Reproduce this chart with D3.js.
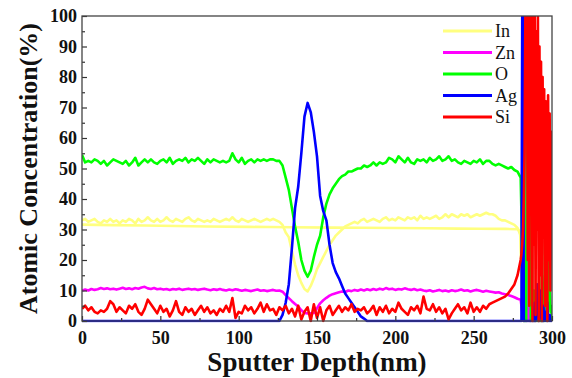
<!DOCTYPE html>
<html>
<head>
<meta charset="utf-8">
<script src="https://cdn.jsdelivr.net/npm/d3@7"></script>
<style>
  html, body { margin: 0; padding: 0; background: #fff; }
  svg { display: block; }
  .tick text { font-family: "Times New Roman", "Liberation Serif", serif; font-weight: bold; font-size: 18px; fill: #111; }
  .tick line { stroke: #333; stroke-width: 1.2; }
</style>
</head>
<body>
<svg id="chart" width="572" height="378"></svg>
<script>
// sputter depth grid (nm): 2 nm steps in the film, 0.5 nm steps in the substrate spikes
const depthMain = [
  0, 2, 4, 6, 8, 10, 12, 14, 16, 18,
  20, 22, 24, 26, 28, 30, 32, 34, 36, 38,
  40, 42, 44, 46, 48, 50, 52, 54, 56, 58,
  60, 62, 64, 66, 68, 70, 72, 74, 76, 78,
  80, 82, 84, 86, 88, 90, 92, 94, 96, 98,
  100, 102, 104, 106, 108, 110, 112, 114, 116, 118,
  120, 122, 124, 126, 128, 130, 132, 134, 136, 138,
  140, 142, 144, 146, 148, 150, 152, 154, 156, 158,
  160, 162, 164, 166, 168, 170, 172, 174, 176, 178,
  180, 182, 184, 186, 188, 190, 192, 194, 196, 198,
  200, 202, 204, 206, 208, 210, 212, 214, 216, 218,
  220, 222, 224, 226, 228, 230, 232, 234, 236, 238,
  240, 242, 244, 246, 248, 250, 252, 254, 256, 258,
  260, 262, 264, 266, 268, 270, 272, 274, 276, 278
];
const depthTail = [
  280, 280.5, 281, 281.5, 282, 282.5, 283, 283.5, 284, 284.5,
  285, 285.5, 286, 286.5, 287, 287.5, 288, 288.5, 289, 289.5,
  290, 290.5, 291, 291.5, 292, 292.5, 293, 293.5, 294, 294.5,
  295, 295.5, 296, 296.5, 297, 297.5, 298, 298.5, 299, 299.5, 300
];

const inMain = [
  33, 33.5, 32.5, 33, 33.5, 32.5, 32, 33, 32.5, 33.5,
  32.5, 33, 32, 33, 32.5, 33.5, 33, 32, 33.5, 32.5,
  33, 34, 33, 32.5, 33.5, 32.5, 33, 34, 33, 32.5,
  33.5, 33, 32.5, 33.5, 34, 33, 32.5, 33.5, 33, 32.5,
  33, 32.5, 33.5, 33, 32.5, 33, 33.5, 33, 34, 33,
  32.5, 33.5, 33, 32.5, 33, 33.5, 33, 32.5, 33, 33.5,
  33, 33.5, 33, 32.5, 31.5, 29, 27.5, 23, 18.5, 15,
  12.5, 10.5, 9.7, 11.5, 14, 17, 19, 21, 23, 25,
  26.5, 28, 29, 30, 31, 31.5, 32, 32.5, 32, 33,
  33.5, 32.5, 33, 33.5, 33, 32.5, 33.5, 34, 33, 33.5,
  33, 34, 33.5, 33, 34, 33.5, 34, 33, 34.5, 33.5,
  34, 33.5, 34, 34.5, 33.5, 34, 35, 34, 35, 34.5,
  34, 35, 34.5, 35, 34, 34.5, 35, 34.5, 35, 35.5,
  35, 35, 34.5, 33.5, 33, 33, 32.5, 32, 31.5, 30.5
];
const inTail = [
  28, 15, 4, 0, 0, 0, 0, 0, 3, 0,
  0, 0, 5, 0, 0, 6, 0, 0, 0, 2,
  0, 0, 0, 4, 0, 0, 0, 2, 0, 0,
  0, 0, 3, 0, 0, 0, 0, 0, 0, 0, 0
];

// second, smooth In trace
const inBaseDepth = [0, 40, 80, 120, 160, 200, 240, 270, 278, 279.5, 280.5, 281.5];
const inBaseValue = [31.6, 31.3, 31.0, 30.8, 30.6, 30.5, 30.3, 30.2, 30.1, 29, 18, 0];

const znMain = [
  10, 10.3, 10, 10.5, 10.2, 10.4, 10.8, 10.5, 10.7, 10.4,
  10.6, 10.3, 10.6, 10.9, 10.5, 10.7, 10.4, 10.8, 10.6, 11,
  11.2, 10.7, 10.5, 10.8, 10.4, 10.6, 10.3, 10.5, 10.2, 10.5,
  10.3, 10.6, 10.2, 10.4, 10.6, 10.3, 10.5, 10.2, 10.4, 10.6,
  10.3, 10.1, 10.4, 10.2, 10.5, 10.2, 10, 10.3, 10.1, 10.4,
  10.2, 9.9, 10.2, 10, 9.8, 10.1, 10.3, 9.9, 10.1, 9.8,
  10, 10.2, 9.9, 10, 9.6, 8.5, 7.5, 6.5, 5.6, 4.8,
  3.5, 2.6, 2.5, 2.5, 2.6, 4.2, 5.8, 6.8, 7.6, 8.3,
  8.8, 9.1, 9.4, 9.7, 9.5, 10, 9.8, 10.2, 9.9, 10.3,
  10, 10.4, 10.1, 10.5, 10.2, 10.6, 10.3, 10.8, 10.4, 10.6,
  10.2, 10.5, 10.3, 10.7, 10.4, 10.2, 10.5, 10.1, 10.3, 10,
  9.8, 10.1, 9.7, 9.9, 10.2, 9.8, 10, 9.7, 10.1, 9.8,
  10, 10.3, 9.9, 10.1, 9.7, 10, 10.2, 9.9, 9.6, 9.9,
  9.7, 9.5, 9.3, 9.4, 9, 8.8, 8.5, 8.2, 7.8, 7.3
];
const znTail = [
  7, 5, 3, 1, 0, 100, 100, 10, 0, 5,
  20, 0, 5, 0, 3, 0, 0, 2, 0, 0,
  4, 0, 0, 3, 0, 0, 5, 0, 8, 0,
  12, 3, 30, 5, 30, 66, 40, 58, 25, 36, 20
];

const oMain = [
  54.5, 52, 52.5, 52, 53, 52.5, 51.5, 52.5, 51, 52,
  53, 52.5, 52, 51.5, 52.5, 51, 52, 53.5, 51, 52,
  53, 52, 53, 52, 51.5, 52.5, 53, 52, 53.5, 51.5,
  52.5, 53, 52.5, 53.5, 52, 53, 52.5, 53.5, 52.5, 51.5,
  53, 52, 53, 52.5, 52, 52.5, 52, 52.5, 55, 53,
  52, 53.5, 51.5, 52.5, 53, 52, 53, 52.5, 53, 52.5,
  53, 53, 52.5, 52.5, 51, 47, 43, 37, 31, 26,
  20, 16.5, 14.5, 16.5, 21, 25, 28, 34, 38.5, 41.5,
  43.5, 45, 46.5, 47.5, 48, 49, 49, 49.5, 50, 50,
  51, 50.5, 51, 52, 51, 52, 51.5, 52, 53.5, 53,
  52, 54, 53, 52, 53.5, 52, 51.5, 53, 52.5, 53,
  52, 53.5, 52.5, 53, 54, 52.5, 53, 54, 52.5, 53,
  52, 51.5, 52.5, 52, 51.5, 52.5, 52, 53, 51.5, 52.5,
  52.5, 51.5, 51, 51.5, 51, 50.5, 50, 50.5, 49.5, 49
];
const oTail = [
  47, 35, 15, 3, 0, 2, 0, 0, 95, 30,
  88, 5, 60, 0, 40, 2, 0, 10, 0, 5,
  0, 3, 0, 8, 0, 2, 0, 15, 0, 10,
  0, 26, 5, 22, 0, 26, 18, 10, 3, 5, 0
];

const agMain = [
  0, 0, 0, 0, 0, 0, 0, 0, 0, 0,
  0, 0, 0, 0, 0, 0, 0, 0, 0, 0,
  0, 0, 0, 0, 0, 0, 0, 0, 0, 0,
  0, 0, 0, 0, 0, 0, 0, 0, 0, 0,
  0, 0, 0, 0, 0, 0, 0, 0, 0, 0,
  0, 0, 0, 0, 0, 0, 0, 0, 0, 0,
  0, 0, 0, 0, 2, 6, 12, 24, 37, 44,
  55, 67, 71.5, 68.5, 62, 54, 41, 36, 33, 25,
  19, 16, 14, 11.5, 9, 7.5, 6, 4.5, 3, 1.5,
  0.8, 0, 0, 0, 0, 0, 0, 0, 0, 0,
  0, 0, 0, 0, 0, 0, 0, 0, 0, 0,
  0, 0, 0, 0, 0, 0, 0, 0, 0, 0,
  0, 0, 0, 0, 0, 0, 0, 0, 0, 0,
  0, 0, 0, 0, 0, 0, 0, 0, 0, 0
];
const agTail = [
  0, 0, 100, 100, 0, 0, 0, 0, 0, 0,
  0, 0, 0, 0, 0, 0, 0, 0, 6, 0,
  3, 12, 4, 0, 6, 10, 2, 0, 0, 5,
  0, 3, 0, 0, 6, 0, 0, 2, 0, 0, 0
];

const siMain = [
  4, 5, 3.5, 4.5, 3, 2.5, 3.5, 3, 4, 6.5,
  5.5, 3, 4.5, 3.5, 2.5, 5, 4, 5.5, 3, 2,
  4, 7, 5.5, 4, 2.5, 5, 3, 4, 1.5, 3.5,
  6.5, 3, 2, 4.5, 3, 4, 2, 3.5, 5, 3,
  4.5, 2.5, 3.5, 2, 4, 3, 5, 3, 7.5, 1,
  3, 2.5, 5, 3.5, 4.5, 2.5, 4, 6, 3, 5.5,
  3.5, 4, 2, 4.5, 3.5, 5, 2.5, 4, 1.5, 5,
  0.5, 3, 4.5, 0, 5.5, 1, 4.5, 0, 3.5, 5,
  2, 3.5, 5, 3, 4.5, 3.5, 5.5, 3, 4, 3.5,
  4.5, 2.5, 3.5, 5, 2, 4.5, 3, 5, 2.5, 4,
  3, 6, 4, 3, 2, 4.5, 3.5, 5, 2.5, 8,
  4, 3.5, 5.5, 3, 4.5, 2.5, 4, 0.5, 2.5, 4,
  5.5, 3.5, 4.5, 2.5, 6, 3, 4.5, 3, 5, 4,
  5.5, 6, 6.5, 7, 7.5, 8, 9, 10.5, 12, 15
];
const siTail = [
  20, 22, 25, 30, 40, 55, 100, 60, 100, 20,
  100, 5, 100, 40, 100, 0, 100, 25, 100, 2,
  95, 30, 100, 0, 90, 15, 85, 0, 80, 35,
  76, 5, 72, 40, 0, 74, 20, 68, 10, 62, 55
];

const xTicks = [0, 50, 100, 150, 200, 250, 300];
const xMinorTicks = [25, 75, 125, 175, 225, 275];
const yTicks = [0, 10, 20, 30, 40, 50, 60, 70, 80, 90, 100];
const yMinorTicks = [5, 15, 25, 35, 45, 55, 65, 75, 85, 95];

const seriesNames = ['In', 'Zn', 'O', 'Ag', 'Si'];
const seriesColors = ['#ffff80', '#ff00ff', '#00ff00', '#0000ff', '#ff0000'];

const depth = depthMain.concat(depthTail);
const series = [
  { name: 'In', color: seriesColors[0], values: inMain.concat(inTail) },
  { name: 'Zn', color: seriesColors[1], values: znMain.concat(znTail) },
  { name: 'O', color: seriesColors[2], values: oMain.concat(oTail) },
  { name: 'Ag', color: seriesColors[3], values: agMain.concat(agTail) },
  { name: 'Si', color: seriesColors[4], values: siMain.concat(siTail) }
];

const margin = { top: 16, right: 20, bottom: 57, left: 82 };
const width = 572, height = 378;
const plotW = width - margin.left - margin.right;
const plotH = height - margin.top - margin.bottom;
const serif = '"Times New Roman", "Liberation Serif", serif';

const svg = d3.select('#chart');

const x = d3.scaleLinear().domain([0, 300]).range([0, plotW]);
const y = d3.scaleLinear().domain([0, 100]).range([plotH, 0]);

const g = svg.append('g').attr('transform', `translate(${margin.left},${margin.top})`);

svg.append('defs').append('clipPath').attr('id', 'plot-clip')
  .append('rect').attr('x', 0).attr('y', 0).attr('width', plotW).attr('height', plotH + 1.5);

const lines = g.append('g').attr('clip-path', 'url(#plot-clip)');

// smooth In trace
const baseLine = d3.line()
  .x((d, i) => x(inBaseDepth[i]))
  .y(d => y(d))
  .curve(d3.curveMonotoneX);
lines.append('path')
  .attr('d', baseLine(inBaseValue))
  .attr('fill', 'none')
  .attr('stroke', seriesColors[0])
  .attr('stroke-width', 2.6);

const line = d3.line()
  .x((d, i) => x(depth[i]))
  .y(d => y(d));

series.forEach(s => {
  lines.append('path')
    .attr('d', line(s.values))
    .attr('fill', 'none')
    .attr('stroke', s.color)
    .attr('stroke-width', 2.6)
    .attr('stroke-linejoin', 'round');
});

// axes with inward ticks
g.append('g').attr('transform', `translate(0,${plotH})`)
  .call(d3.axisBottom(x).tickValues(xTicks).tickSize(-5).tickPadding(10).tickFormat(d3.format('d')));
g.append('g').attr('transform', `translate(0,${plotH})`)
  .call(d3.axisBottom(x).tickValues(xMinorTicks).tickSize(-3).tickFormat(''));
g.append('g')
  .call(d3.axisLeft(y).tickValues(yTicks).tickSize(-5).tickPadding(5).tickFormat(d3.format('d')));
g.append('g')
  .call(d3.axisLeft(y).tickValues(yMinorTicks).tickSize(-3).tickFormat(''));
g.selectAll('.domain').remove();

// frame
g.append('rect')
  .attr('width', plotW).attr('height', plotH)
  .attr('fill', 'none').attr('stroke', '#444').attr('stroke-width', 1.3);

// axis titles
svg.append('text')
  .attr('x', margin.left + plotW / 2).attr('y', 371)
  .attr('text-anchor', 'middle')
  .style('font-family', serif)
  .style('font-weight', 'bold').style('font-size', '27px').style('fill', '#111')
  .text('Sputter Depth(nm)');

svg.append('text')
  .attr('transform', `translate(37,${margin.top + plotH / 2}) rotate(-90)`)
  .attr('text-anchor', 'middle')
  .style('font-family', serif)
  .style('font-weight', 'bold').style('font-size', '26px').style('fill', '#111')
  .text('Atomic Concentration(%)');

// legend
const legend = svg.append('g').attr('transform', 'translate(443,31)');
seriesNames.forEach((name, i) => {
  const row = legend.append('g').attr('transform', `translate(0,${i * 21.5})`);
  row.append('line').attr('x1', 0).attr('x2', 49).attr('y1', 0).attr('y2', 0)
    .attr('stroke', seriesColors[i]).attr('stroke-width', 3);
  row.append('text').attr('x', 52).attr('y', 6)
    .style('font-family', serif)
    .style('font-size', '18px').style('fill', '#111')
    .text(name);
});
</script>
</body>
</html>
